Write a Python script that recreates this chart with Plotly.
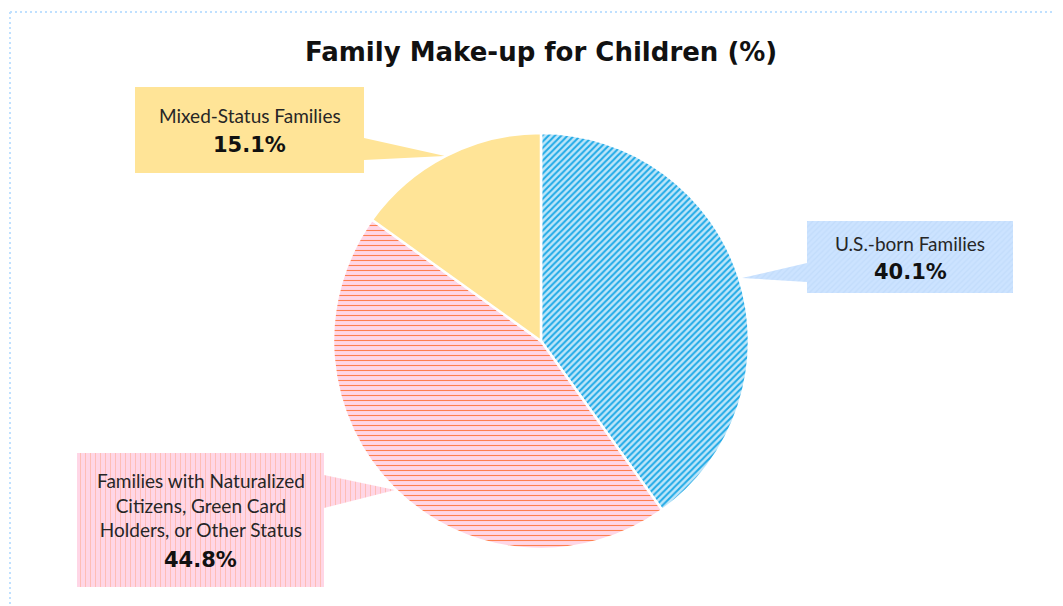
import plotly.graph_objects as go

# ---- data ----
categories = ["U.S.-born Families",
              "Families with Naturalized Citizens, Green Card Holders, or Other Status",
              "Mixed-Status Families"]
values = [40.1, 44.8, 15.1]
callout_labels = ["U.S.-born Families",
                  "Families with Naturalized<br>Citizens, Green Card<br>Holders, or Other Status",
                  "Mixed-Status Families"]
value_text = ["40.1%", "44.8%", "15.1%"]

# ---- style ----
W, H = 1063, 606
OFF = 8  # page body margin: data coords below are screen pixels
CX, CY, R = 541, 341, 208
slice_bg = ["#BFE6F9", "#FFD6E6", "#FFE497"]
slice_fg = ["#1FA9E6", "#FF7F50", "#FFE497"]
slice_shape = ["/", "-", ""]
slice_size = [4.5, 5, 8]
slice_solid = [0.45, 0.22, 0.3]

# callout geometry (screen pixels): box x0,x1,y0,y1 ; pointer base (y0,y1) and tip
callouts = [
    dict(box=(807, 1013, 221, 293), side="left", base=(263, 282), tip=(742, 278),
         bg="#CCE3FF", fg="#C2DCFB", shape="/", size=4, solid=0.3,
         ly=243, vy=272),
    dict(box=(77, 324, 453, 587), side="right", base=(475, 508), tip=(395, 490),
         bg="#FFD6E6", fg="#FFBDB5", shape="|", size=5, solid=0.2,
         ly=505, vy=560),
    dict(box=(135, 364, 87, 173), side="right", base=(138, 160), tip=(445, 156),
         bg="#FFE497", fg="#FFE497", shape="", size=8, solid=0.3,
         ly=115, vy=145),
]

fig = go.Figure()

for i, c in enumerate(callouts):
    x0, x1, y0, y1 = c["box"]
    b0, b1 = c["base"]
    tx, ty = c["tip"]
    if c["side"] == "right":
        xs = [x0, x1, x1, tx, x1, x1, x0, x0]
        ys = [y0, y0, b0, ty, b1, y1, y1, y0]
    else:
        xs = [x0, x1, x1, x0, x0, tx, x0, x0]
        ys = [y0, y0, y1, y1, b1, ty, b0, y0]
    fp = dict(bgcolor=c["bg"], fgcolor=c["fg"], shape=c["shape"],
              size=c["size"], solidity=c["solid"], fillmode="replace")
    fig.add_trace(go.Scatter(
        x=xs, y=ys, mode="lines", fill="toself", line=dict(width=0, color=c["bg"]),
        fillcolor=c["bg"], fillpattern=fp if c["shape"] else None,
        hoverinfo="skip", showlegend=False))
    cx = (x0 + x1) / 2
    fig.add_annotation(x=cx, y=c["ly"], xref="x", yref="y", text=callout_labels[i],
                       showarrow=False, align="center",
                       font=dict(family="Lato", size=19, color="#262626"))
    fig.add_annotation(x=cx, y=c["vy"], xref="x", yref="y", text=value_text[i],
                       showarrow=False,
                       font=dict(family="DejaVu Sans", size=21, color="#111111", weight="bold"))

fig.add_trace(go.Pie(
    labels=categories, values=values, sort=False, direction="clockwise", rotation=0,
    textinfo="none", hoverinfo="label+percent", showlegend=False,
    marker=dict(colors=slice_bg, line=dict(color="white", width=2.5),
                pattern=dict(shape=slice_shape, fgcolor=slice_fg, bgcolor=slice_bg,
                             size=slice_size, solidity=slice_solid, fillmode="replace")),
    domain=dict(x=[(CX - OFF - R) / W, (CX - OFF + R) / W],
                y=[(H - (CY - OFF) - R) / H, (H - (CY - OFF) + R) / H]),
))

fig.add_annotation(x=CX, y=52, xref="x", yref="y", text="Family Make-up for Children (%)",
                   showarrow=False,
                   font=dict(family="DejaVu Sans", size=26, color="#111111", weight="bold"))

border = dict(color="#BFE0FF", width=2, dash="2px,3px")
fig.add_shape(type="line", xref="x", yref="y", x0=10, y0=12, x1=W + OFF, y1=12, line=border)
fig.add_shape(type="line", xref="x", yref="y", x0=10, y0=12, x1=10, y1=H + OFF, line=border)

fig.update_layout(
    width=W, height=H, margin=dict(l=0, r=0, t=0, b=0),
    paper_bgcolor="white", plot_bgcolor="white",
    xaxis=dict(range=[OFF, W + OFF], visible=False, fixedrange=True),
    yaxis=dict(range=[H + OFF, OFF], visible=False, fixedrange=True),
    showlegend=False,
)

fig.write_html("out.html")
